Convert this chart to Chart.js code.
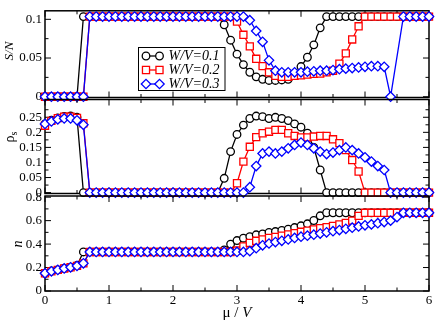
<!DOCTYPE html>
<html><head><meta charset="utf-8">
<script src="https://cdn.jsdelivr.net/npm/chart.js@4.4.1/dist/chart.umd.min.js"></script>
<style>
html,body{margin:0;padding:0;background:#fff;}
#wrap{position:relative;width:436px;height:323px;overflow:hidden;background:#fff;}
canvas{position:absolute;left:0;}
</style></head><body>
<div id="wrap">
<canvas id="c1" width="436" height="110" style="top:0px"></canvas>
<canvas id="c2" width="436" height="120" style="top:88px"></canvas>
<canvas id="c3" width="436" height="138" style="top:185px"></canvas>
</div>
<script>
// ---- data ----
const mu = [0,0.1,0.2,0.3,0.4,0.5,0.6,0.7,0.8,0.9,
  1.0,1.1,1.2,1.3,1.4,1.5,1.6,1.7,1.8,1.9,
  2.0,2.1,2.2,2.3,2.4,2.5,2.6,2.7,2.8,2.9,
  3.0,3.1,3.2,3.3,3.4,3.5,3.6,3.7,3.8,3.9,
  4.0,4.1,4.2,4.3,4.4,4.5,4.6,4.7,4.8,4.9,
  5.0,5.1,5.2,5.3,5.4,5.5,5.6,5.7,5.8,5.9,
  6.0];
const seriesLabels = ['W/V=0.1','W/V=0.2','W/V=0.3'];

const sn01 = [0,0,0,0,0,0,0.1035,0.1035,0.1035,0.1035,
  0.1035,0.1035,0.1035,0.1035,0.1035,0.1035,0.1035,0.1035,0.1035,0.1035,
  0.1035,0.1035,0.1035,0.1035,0.1035,0.1035,0.1035,0.1035,0.093,0.073,
  0.055,0.0415,0.0316,0.0257,0.0225,0.021,0.021,0.0217,0.0225,0.029,
  0.039,0.051,0.067,0.089,0.1035,0.1035,0.1035,0.1035,0.1035,0.1035,
  0.1035,0.1035,0.1035,0.1035,0.1035,0.1035,0.1035,0.1035,0.1035,0.1035,
  0.1035];
const sn02 = [0,0,0,0,0,0,0,0.1035,0.1035,0.1035,
  0.1035,0.1035,0.1035,0.1035,0.1035,0.1035,0.1035,0.1035,0.1035,0.1035,
  0.1035,0.1035,0.1035,0.1035,0.1035,0.1035,0.1035,0.1035,0.1035,0.1035,
  0.097,0.08,0.065,0.049,0.0395,0.0316,0.027,0.0257,0.0257,0.027,
  0.0277,0.0285,0.0296,0.030,0.0316,0.0336,0.0427,0.056,0.074,0.091,
  0.1035,0.1035,0.1035,0.1035,0.1035,0.1035,0.1035,0.1035,0.1035,0.1035,
  0.1035];
const sn03 = [0,0,0,0,0,0,0,0.1035,0.1035,0.1035,
  0.1035,0.1035,0.1035,0.1035,0.1035,0.1035,0.1035,0.1035,0.1035,0.1035,
  0.1035,0.1035,0.1035,0.1035,0.1035,0.1035,0.1035,0.1035,0.1035,0.1035,
  0.1035,0.1035,0.0988,0.085,0.071,0.047,0.0336,0.0316,0.0316,0.0316,
  0.0316,0.0324,0.0328,0.0336,0.0336,0.0344,0.0356,0.0363,0.0371,0.0379,
  0.0387,0.0395,0.0395,0.0387,0,null,0.1035,0.1035,0.1035,0.1035,
  0.1035];

const rho01 = [0.228,0.24,0.248,0.253,0.254,0.25,0,0,0,0,
  0,0,0,0,0,0,0,0,0,0,
  0,0,0,0,0,0,0,0,0.0475,0.136,
  0.193,0.224,0.246,0.254,0.252,0.246,0.25,0.246,0.239,0.228,
  0.217,0.197,0.15,0.075,0,0,0,0,0,0,
  0,0,0,0,0,0,0,0,0,0,
  0];
const rho02 = [0.222,0.238,0.247,0.252,0.252,0.248,0.23,0,0,0,
  0,0,0,0,0,0,0,0,0,0,
  0,0,0,0,0,0,0,0,0,0,
  0.031,0.103,0.152,0.184,0.197,0.202,0.208,0.208,0.197,0.188,
  0.183,0.183,0.186,0.188,0.188,0.177,0.164,0.141,0.108,0.07,
  0,0,0,0,0,0,0,0,0,0,
  0];
const rho03 = [0.228,0.236,0.243,0.246,0.246,0.24,0.225,0,0,0,
  0,0,0,0,0,0,0,0,0,0,
  0,0,0,0,0,0,0,0,0,0,
  0,0,0.018,0.088,0.13,0.136,0.13,0.136,0.147,0.158,
  0.166,0.158,0.147,0.136,0.128,0.133,0.141,0.15,0.141,0.13,
  0.117,0.103,0.088,0.075,0,0,0,0,0,0,
  0];

const n01 = [0.151,0.171,0.18,0.194,0.202,0.218,0.333,0.333,0.333,0.333,
  0.333,0.333,0.333,0.333,0.333,0.333,0.333,0.333,0.333,0.333,
  0.333,0.333,0.333,0.333,0.333,0.333,0.333,0.333,0.35,0.40,
  0.43,0.45,0.464,0.479,0.487,0.499,0.507,0.516,0.527,0.541,
  0.556,0.573,0.601,0.641,0.667,0.667,0.667,0.667,0.667,0.667,
  0.667,0.667,0.667,0.667,0.667,0.667,0.667,0.667,0.667,0.667,
  0.667];
const n02 = [0.151,0.168,0.18,0.192,0.202,0.214,0.236,0.333,0.333,0.333,
  0.333,0.333,0.333,0.333,0.333,0.333,0.333,0.333,0.333,0.333,
  0.333,0.333,0.333,0.333,0.333,0.333,0.333,0.333,0.333,0.333,
  0.345,0.38,0.41,0.428,0.44,0.452,0.462,0.472,0.482,0.493,
  0.505,0.515,0.525,0.535,0.545,0.555,0.567,0.58,0.6,0.64,
  0.667,0.667,0.667,0.667,0.667,0.667,0.667,0.667,0.667,0.667,
  0.667];
const n03 = [0.151,0.168,0.18,0.192,0.202,0.214,0.236,0.333,0.333,0.333,
  0.333,0.333,0.333,0.333,0.333,0.333,0.333,0.333,0.333,0.333,
  0.333,0.333,0.333,0.333,0.333,0.333,0.333,0.333,0.333,0.333,
  0.333,0.333,0.34,0.365,0.39,0.405,0.417,0.428,0.44,0.452,
  0.463,0.472,0.48,0.49,0.5,0.51,0.52,0.53,0.54,0.55,
  0.56,0.568,0.578,0.588,0.6,0.63,0.667,0.667,0.667,0.667,
  0.667];

const xTicks = [0,1,2,3,4,5,6];
const xTickLabels = ['0','1','2','3','4','5','6'];
const xMinor = [0.5,1.5,2.5,3.5,4.5,5.5];
const snTicks = [0,0.05,0.1];
const snTickLabels = ['0','0.05','0.1'];
const snMinor = [0.025,0.075];
const rhoTicks = [0,0.05,0.1,0.15,0.2,0.25];
const rhoTickLabels = ['0','0.05','0.1','0.15','0.2','0.25'];
const rhoMinor = [0.025,0.075,0.125,0.175,0.225,0.275];
const nTicks = [0,0.2,0.4,0.6,0.8];
const nTickLabels = ['0','0.2','0.4','0.6','0.8'];
const nMinor = [0.1,0.3,0.5,0.7];

// ---- styles ----
const SERIF = '"Liberation Serif","Times New Roman",serif';
const colors = ['#000000','#ff0000','#0000ff'];
const styles = ['circle','rect','rectRot'];
const radii = [3.8,5.0,4.7];

function makeDs(i, ys){
  return {
    label: seriesLabels[i],
    data: mu.map((x,k)=>({x:x, y:ys[k]})),
    borderColor: colors[i], backgroundColor:'#fff',
    pointStyle: styles[i], pointRadius: radii[i],
    pointBorderColor: colors[i], pointBackgroundColor:'#fff',
    pointBorderWidth: 1.3, borderWidth: 1.3,
    tension: 0, clip: false, spanGaps: true, order: 2 - i
  };
}

function yScale(ticks, labels, min, max){
  return {
    type:'linear', min:min, max:max, position:'left',
    grid:{display:false, drawTicks:false}, border:{display:false},
    afterBuildTicks: s => { s.ticks = ticks.map(v=>({value:v})); },
    afterFit: s => { s.width = 45; },
    ticks:{ color:'#000', font:{family:SERIF, size:13}, padding:3, autoSkip:false,
      callback:(v,idx)=>labels[idx] }
  };
}
function xScale(show){
  return {
    type:'linear', min:0, max:6, display: show,
    grid:{display:false, drawTicks:false}, border:{display:false},
    afterBuildTicks: s => { s.ticks = xTicks.map(v=>({value:v})); },
    afterFit: s => { if (show) s.height = 32; },
    ticks:{ color:'#000', font:{family:SERIF, size:13}, padding:2, autoSkip:false, maxRotation:0,
      callback:(v,idx)=>xTickLabels[idx] }
  };
}

const framePlugin = {
  id:'frame',
  beforeDatasetsDraw(chart, args, o){
    const ctx = chart.ctx, a = chart.chartArea, xs = chart.scales.x, ys = chart.scales.y;
    ctx.save();
    ctx.strokeStyle = '#000';
    ctx.lineWidth = 1;
    const ln = (x1,y1,x2,y2)=>{ctx.beginPath();ctx.moveTo(x1,y1);ctx.lineTo(x2,y2);ctx.stroke();};
    [[xTicks,6],[xMinor,3.5]].forEach(([vals,len])=>vals.forEach(v=>{
      const p = xs.getPixelForValue(v);
      ln(p,a.bottom,p,a.bottom-len); ln(p,a.top,p,a.top+len);
    }));
    [[o.major,6],[o.minor,3.5]].forEach(([vals,len])=>vals.forEach(v=>{
      const p = ys.getPixelForValue(v);
      ln(a.left,p,a.left+len,p); ln(a.right,p,a.right-len,p);
    }));
    ctx.lineWidth = 1.5;
    ctx.strokeRect(a.left, a.top, a.right-a.left, a.bottom-a.top);
    ctx.restore();
  },
  afterDraw(chart, args, o){
    const ctx = chart.ctx;
    ctx.save();
    ctx.fillStyle = '#000';
    (o.titles||[]).forEach(t=>{
      ctx.save();
      ctx.translate(t.x, t.y);
      if (t.rot) ctx.rotate(-Math.PI/2);
      ctx.textBaseline = 'middle';
      let total = 0;
      t.parts.forEach(p=>{ ctx.font = p.font; total += ctx.measureText(p.text).width; });
      let cx = -total/2;
      t.parts.forEach(p=>{
        ctx.font = p.font; ctx.textAlign = 'left';
        ctx.fillText(p.text, cx, p.dy||0);
        cx += ctx.measureText(p.text).width;
      });
      ctx.restore();
    });
    if (o.legend){
      const L = o.legend;
      ctx.lineWidth = 1;
      ctx.strokeStyle = '#000';
      ctx.strokeRect(L.x, L.y, L.w, L.h);
      const ds = chart.data.datasets.slice().sort((p,q)=>seriesLabels.indexOf(p.label)-seriesLabels.indexOf(q.label));
      ds.forEach((d,i)=>{
        const yy = L.rows[i];
        ctx.strokeStyle = d.borderColor; ctx.lineWidth = 1.3;
        ctx.beginPath(); ctx.moveTo(L.sx1, yy); ctx.lineTo(L.sx2, yy); ctx.stroke();
        [L.sx1, L.sx2].forEach(px=>{
          ctx.fillStyle = '#fff';
          ctx.strokeStyle = d.borderColor;
          ctx.lineWidth = 1.3;
          Chart.helpers.drawPoint(ctx, {pointStyle:d.pointStyle, radius:d.pointRadius, borderWidth:1.3, rotation:0}, px, yy);
        });
        ctx.fillStyle = '#000';
        ctx.font = 'italic 14px ' + SERIF;
        ctx.textAlign = 'left'; ctx.textBaseline = 'middle';
        ctx.fillText(d.label, L.tx, yy + 0.5);
      });
    }
    ctx.restore();
  }
};

function make(id, datasets, yOpts, showX, padding, frameOpts){
  return new Chart(document.getElementById(id), {
    type:'line',
    data:{datasets: datasets},
    options:{
      responsive:false, animation:false, devicePixelRatio:1,
      layout:{padding: padding},
      scales:{ x: xScale(showX), y: yOpts },
      plugins:{ legend:{display:false}, tooltip:{enabled:false}, frame: frameOpts }
    },
    plugins:[framePlugin]
  });
}

make('c1', [makeDs(0,sn01), makeDs(1,sn02), makeDs(2,sn03)],
  yScale(snTicks, snTickLabels, -0.001, 0.111), false,
  {left:0, right:7, top:3.3, bottom:12.5},
  {major:snTicks, minor:snMinor,
   titles:[{x:10, y:51, rot:true, parts:[{text:'S/N', font:'italic 13px '+SERIF}]}],
   legend:{x:138.5, y:47.5, w:86.5, h:43, rows:[56,70,84], sx1:146, sx2:159.5, tx:168.5}});

make('c2', [makeDs(0,rho01), makeDs(1,rho02), makeDs(2,rho03)],
  yScale(rhoTicks, rhoTickLabels, -0.003, 0.309), false,
  {left:0, right:7, top:11.5, bottom:14.5},
  {major:rhoTicks, minor:rhoMinor,
   titles:[{x:10, y:49, rot:true, parts:[{text:'\u03c1', font:'14px '+SERIF},{text:'s', font:'10px '+SERIF, dy:4}]}]});

make('c3', [makeDs(0,n01), makeDs(1,n02), makeDs(2,n03)],
  yScale(nTicks, nTickLabels, 0, 0.81), true,
  {left:0, right:7, top:11, bottom:0},
  {major:nTicks, minor:nMinor,
   titles:[{x:18, y:59, rot:true, parts:[{text:'n', font:'italic 14px '+SERIF}]},
           {x:237, y:128, rot:false, parts:[{text:'\u03bc / ', font:'15px '+SERIF},{text:'V', font:'italic 15px '+SERIF}]}]});
</script>
</body></html>
